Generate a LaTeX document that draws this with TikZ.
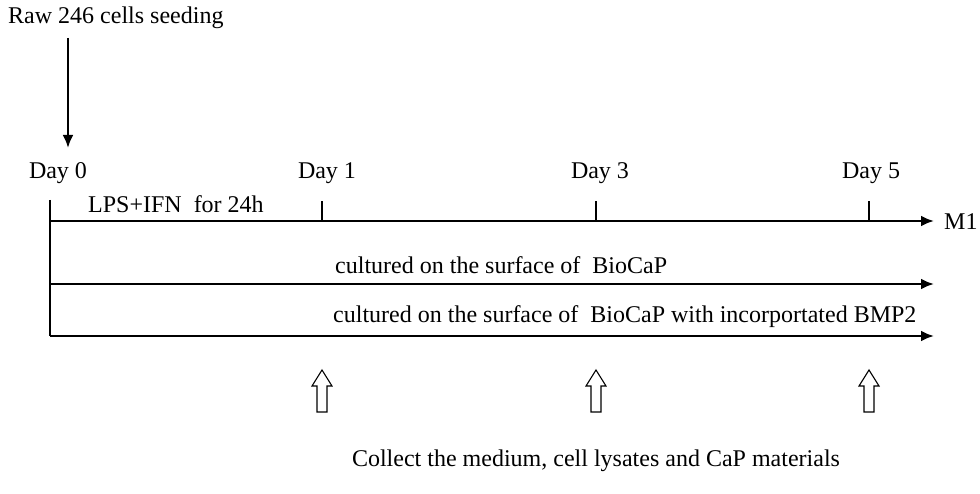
\documentclass[tikz,border=0pt]{standalone}
\usepackage{fontspec}
\setmainfont{Liberation Serif}
\usetikzlibrary{arrows.meta}
\tikzset{
  lbl/.style={inner sep=0pt, font=\fontsize{24}{28}\selectfont},
  tline/.style={line width=2.8pt},
  hollow/.style={line width=1.1pt}
}
\begin{document}
\begin{tikzpicture}[x=1pt, y=-1pt, >={Latex[length=13pt,width=11pt]}]
    \useasboundingbox (0,0) rectangle (980,494);

    % 1. Gieo tế bào
    \node[lbl, anchor=west] (raw) at (8,18) {Raw 246 cells seeding};
    \coordinate (s0) at (68,38);
    \coordinate (s1) at (68,148);
    \draw[tline, ->] (s0) -- (s1);

    % 2. Các mốc ngày
    \node[lbl] (d0) at (58,173) {Day 0};
    \node[lbl] (d1) at (327,173) {Day 1};
    \node[lbl] (d3) at (600,173) {Day 3};
    \node[lbl] (d5) at (871,173) {Day 5};
    \node[lbl, anchor=west] (lps) at (88,204) {LPS+IFN\ \ for 24h};

    % 3. Các trục thời gian
    \coordinate (top) at (50,200);
    \coordinate (o1) at (50,221);
    \coordinate (o2) at (50,284);
    \coordinate (o3) at (50,336);
    \coordinate (e1) at (934,221);
    \coordinate (e2) at (934,284);
    \coordinate (e3) at (934,336);
    \draw[tline] (top) -- (o3);
    \draw[tline, ->] (o1) -- (e1);
    \draw[tline, ->] (o2) -- (e2);
    \draw[tline, ->] (o3) -- (e3);
    \node[lbl, anchor=west] (m1) at (944,222) {M1};
    \foreach \t in {322,596,869}
        \draw[tline] (\t,221) -- (\t,201);

    \node[lbl, anchor=west] (bio) at (335,265) {cultured on the surface of\ \ BioCaP};
    \node[lbl, anchor=west] (bmp) at (333,317) {cultured on the surface of\ \ BioCaP with incorportated BMP2};

    % 4. Mũi tên rỗng
    \foreach \t in {322,596,869}
        \draw[hollow] (\t-5,412) -- (\t-5,386) -- (\t-10,386) -- (\t,370)
            -- (\t+10,386) -- (\t+5,386) -- (\t+5,412) -- cycle;

    \node[lbl] (col) at (596,461) {Collect the medium, cell lysates and CaP materials};
\end{tikzpicture}
\end{document}
